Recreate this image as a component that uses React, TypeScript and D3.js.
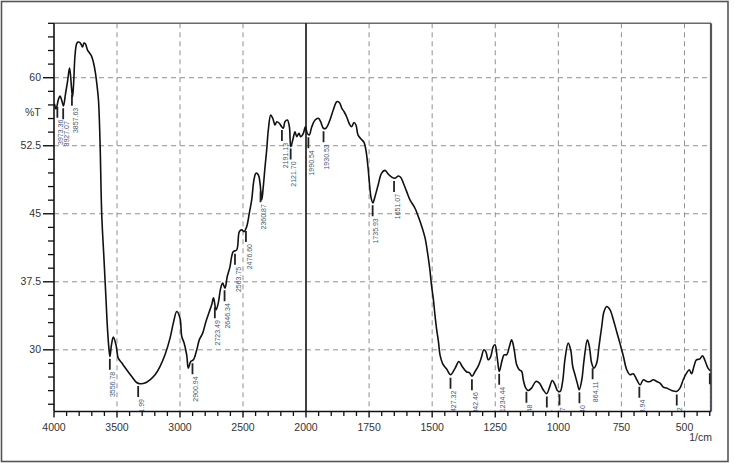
import React from 'react';
import * as d3 from 'd3';

// Spectrum (wavenumber 1/cm, %T)
const wavenumber = [
  3996, 3984, 3964, 3952, 3937, 3925, 3909, 3893, 3877, 3869, 3861, 3853, 3845, 3833, 3821, 3810, 3794, 3782, 3774, 3762,
  3750, 3734, 3718, 3702, 3686, 3671, 3659, 3647, 3635, 3621, 3603, 3587, 3575, 3563, 3556, 3544, 3529, 3508, 3490, 3463,
  3423, 3383, 3344, 3317, 3278, 3238, 3198, 3159, 3119, 3079, 3053, 3026, 3000, 2986, 2968, 2947, 2934, 2915, 2894, 2867,
  2847, 2820, 2794, 2767, 2748, 2734, 2714, 2696, 2677, 2661, 2643, 2625, 2603, 2590, 2577, 2550, 2529, 2510, 2492, 2471,
  2450, 2431, 2413, 2397, 2378, 2365, 2351, 2339, 2325, 2312, 2299, 2280, 2264, 2246, 2232, 2212, 2193, 2180, 2167, 2148,
  2132, 2121, 2105, 2087, 2074, 2056, 2042, 2021, 2005, 1995, 1987, 1977, 1964, 1951, 1942, 1931, 1921, 1905, 1892, 1878,
  1868, 1858, 1849, 1839, 1828, 1819, 1810, 1802, 1794, 1782, 1770, 1762, 1754, 1748, 1742, 1735, 1727, 1713, 1701, 1687,
  1673, 1659, 1647, 1634, 1625, 1614, 1601, 1588, 1568, 1555, 1541, 1528, 1518, 1509, 1502, 1495, 1489, 1482, 1475, 1469,
  1458, 1442, 1427, 1409, 1394, 1381, 1364, 1352, 1342, 1330, 1317, 1306, 1295, 1287, 1278, 1268, 1258, 1251, 1242, 1234,
  1224, 1215, 1205, 1194, 1185, 1176, 1165, 1155, 1145, 1139, 1129, 1119, 1106, 1089, 1075, 1060, 1046, 1036, 1024, 1013,
  1004, 993, 983, 974, 961, 951, 943, 934, 925, 917, 907, 898, 885, 877, 868, 859, 848, 839, 828, 819,
  808, 795, 782, 769, 756, 742, 729, 716, 703, 689, 676, 663, 649, 636, 624, 610, 597, 584, 571, 551,
  531, 518, 505, 492, 481, 472, 463, 453, 440, 429, 420, 407, 398
];
const transmittance = [
  57.10, 56.55, 57.65, 57.98, 57.43, 56.88, 58.20, 59.53, 61.07, 60.30, 58.87, 57.87, 59.20, 62.50, 63.71, 63.93, 63.88, 63.60, 63.38, 63.82,
  63.71, 63.05, 62.72, 62.39, 61.62, 60.52, 59.20, 57.54, 53.14, 44.87, 39.92, 35.51, 32.20, 30.00, 29.26, 30.55, 31.40, 30.55, 29.09, 28.57,
  27.80, 27.06, 26.40, 26.26, 26.33, 26.70, 27.25, 28.16, 29.45, 31.29, 32.94, 34.22, 33.49, 31.47, 30.77, 29.45, 27.98, 28.71, 28.90, 30.00,
  31.10, 31.84, 33.12, 34.22, 35.00, 35.73, 34.41, 35.18, 36.80, 37.35, 36.80, 38.08, 39.18, 40.28, 40.83, 41.02, 43.03, 43.22, 43.03, 43.58,
  45.06, 46.53, 48.73, 49.47, 49.28, 48.37, 46.53, 47.99, 50.19, 52.03, 54.24, 55.89, 55.53, 54.79, 55.15, 54.98, 54.60, 54.43, 55.15, 55.34,
  54.60, 52.40, 53.14, 54.05, 53.50, 53.87, 53.50, 53.87, 54.60, 53.87, 53.69, 54.60, 55.34, 55.53, 55.15, 54.43, 54.43, 55.34, 56.44, 57.36,
  57.27, 56.63, 56.25, 55.70, 54.90, 54.60, 55.06, 54.79, 53.69, 53.25, 52.86, 51.92, 50.05, 48.18, 46.75, 46.20, 46.86, 48.29, 49.45, 49.78,
  49.34, 49.01, 48.92, 49.17, 49.03, 48.37, 47.44, 46.53, 45.61, 44.69, 43.58, 42.31, 40.65, 38.81, 36.97, 35.51, 33.86, 32.20, 30.88, 29.45,
  28.46, 27.85, 27.25, 27.98, 28.71, 28.16, 27.58, 27.47, 27.08, 27.61, 28.24, 29.06, 30.00, 29.78, 28.90, 29.26, 30.36, 30.55, 29.09, 27.61,
  28.71, 29.45, 29.45, 30.36, 31.10, 30.19, 28.35, 27.80, 27.61, 26.70, 25.78, 25.52, 25.78, 26.51, 26.33, 25.59, 25.15, 25.78, 26.62, 26.14,
  25.52, 25.41, 26.51, 28.90, 30.74, 30.00, 28.16, 27.25, 26.33, 25.59, 26.70, 28.90, 31.10, 30.36, 28.54, 27.98, 28.54, 30.36, 32.57, 34.22,
  34.77, 34.41, 33.31, 32.02, 30.74, 29.26, 27.80, 27.25, 27.36, 26.70, 26.14, 26.70, 26.51, 26.51, 26.70, 26.51, 26.33, 25.89, 25.78, 25.52,
  25.41, 25.78, 26.70, 27.43, 27.80, 27.36, 28.13, 28.90, 28.98, 29.34, 28.90, 27.98, 27.69
];

// Peak picking labels
const peakWavenumbers = [
  3973.36, 3927.07, 3857.63, 3556.78, 3331.99, 2900.94, 2723.49, 2646.34, 2563.75, 2476.60, 2360.87, 2191.13, 2121.70,
  1990.54, 1930.53, 1735.93, 1651.07, 1427.32, 1342.46, 1234.44, 1126.48, 1045.61, 995.47, 916.40, 864.11, 678.94, 530.72, 399.68
];
const peakLabels = peakWavenumbers.map((v) => v.toFixed(2));

const xMajorTicks = [4000, 3500, 3000, 2500, 2000, 1750, 1500, 1250, 1000, 750, 500];
const xGridTicks = [3500, 3000, 2500, 1750, 1500, 1250, 1000, 750, 500];
const yMajorTicks = [30, 37.5, 45, 52.5, 60];
const yAxisLabel = '%T';
const xAxisLabel = '1/cm';

const W = 734;
const H = 463;
const L = 54, R = 711, T = 23.3, B = 411.5;

export default function App() {
  const x = d3.scaleLinear().domain([4000, 2000, 395]).range([L, 306, R]);
  const y = d3.scaleLinear().domain([23.2, 66]).range([B, T]);

  const data = wavenumber.map((w, i) => [w, transmittance[i]] as [number, number]);
  const line = d3
    .line<[number, number]>()
    .x((d) => x(d[0]))
    .y((d) => y(d[1]))
    .curve(d3.curveCatmullRom.alpha(0.5));

  // interpolate curve value at a wavenumber
  const asc = [...data].reverse();
  const bis = d3.bisector((d: [number, number]) => d[0]).left;
  const valueAt = (w: number) => {
    const i = Math.max(1, Math.min(asc.length - 1, bis(asc, w)));
    const a = asc[i - 1], b = asc[i];
    const t = (w - a[0]) / (b[0] - a[0]);
    return a[1] + (b[1] - a[1]) * Math.max(0, Math.min(1, t));
  };

  const xMinor: number[] = [];
  for (let v = 4000; v >= 2000; v -= 100) if (!xMajorTicks.includes(v)) xMinor.push(v);
  for (let v = 1950; v >= 400; v -= 50) if (!xMajorTicks.includes(v)) xMinor.push(v);
  const yMinor: number[] = [];
  for (let v = 24; v <= 66.01; v += 1.5) if (!yMajorTicks.some((m) => Math.abs(m - v) < 0.01)) yMinor.push(v);

  const font = "'Liberation Sans', Arial, Helvetica, sans-serif";

  return (
    <svg width={W} height={H} style={{ position: 'absolute', left: 0, top: 0, background: '#fff' }} fontFamily={font}>
      <defs>
        <clipPath id="plotClip">
          <rect x={L} y={T} width={R - L} height={B - T} />
        </clipPath>
      </defs>
      <rect x={1.5} y={1.5} width={726.5} height={460} fill="#fff" stroke="#555" strokeWidth={1.6} />

      {/* grid */}
      {xGridTicks.map((v) => (
        <line key={'gx' + v} x1={x(v)} x2={x(v)} y1={T} y2={B} stroke="#909090" strokeWidth={1} strokeDasharray="5,4" />
      ))}
      {yMajorTicks.map((v) => (
        <line key={'gy' + v} x1={L} x2={R} y1={y(v)} y2={y(v)} stroke="#909090" strokeWidth={1} strokeDasharray="5,4" />
      ))}

      {/* frame top/right */}
      <line x1={L} x2={R} y1={T} y2={T} stroke="#6a6a6a" strokeWidth={1.6} />
      <line x1={R} x2={R} y1={T} y2={B} stroke="#555" strokeWidth={2.2} />

      {/* 2000 divider */}
      <line x1={x(2000)} x2={x(2000)} y1={T} y2={B} stroke="#111" strokeWidth={1.6} />

      {/* spectrum */}
      <path d={line(data) || ''} fill="none" stroke="#111" strokeWidth={1.6} strokeLinejoin="round" clipPath="url(#plotClip)" />

      {/* peak labels */}
      <g clipPath="url(#plotClip)">
        {peakWavenumbers.map((w, i) => {
          const px = x(w);
          const py = y(valueAt(w));
          return (
            <g key={'pk' + i}>
              <line x1={px} x2={px} y1={py + 3} y2={py + 14} stroke="#222" strokeWidth={1.8} />
              <text
                transform={`translate(${px},${py + 16}) rotate(-90)`}
                textAnchor="end"
                dy="0.8em"
                fontSize={7}
                fill="#4a5670"
              >
                {peakLabels[i]}
              </text>
            </g>
          );
        })}
      </g>

      {/* axes */}
      <line x1={L} x2={L} y1={T} y2={B} stroke="#111" strokeWidth={1.6} />
      <line x1={L} x2={R} y1={B} y2={B} stroke="#111" strokeWidth={1.6} />
      {xMajorTicks.map((v) => (
        <g key={'xt' + v}>
          <line x1={x(v)} x2={x(v)} y1={B} y2={B + 6} stroke="#111" strokeWidth={1.4} />
          <text x={x(v)} y={431} textAnchor="middle" fontSize={10.5} fill="#333">
            {v}
          </text>
        </g>
      ))}
      {xMinor.map((v) => (
        <line key={'xm' + v} x1={x(v)} x2={x(v)} y1={B} y2={B + 4.5} stroke="#111" strokeWidth={1.3} />
      ))}
      {yMajorTicks.map((v) => (
        <g key={'yt' + v}>
          <line x1={L - 11} x2={L} y1={y(v)} y2={y(v)} stroke="#111" strokeWidth={1.4} />
          <text x={41} y={y(v)} dy="0.35em" textAnchor="end" fontSize={10.5} fill="#333">
            {v}
          </text>
        </g>
      ))}
      {yMinor.map((v) => (
        <line key={'ym' + v} x1={L - 6} x2={L} y1={y(v)} y2={y(v)} stroke="#111" strokeWidth={1.3} />
      ))}
      <text x={25} y={112.5} dy="0.35em" fontSize={10.5} fill="#333">
        {yAxisLabel}
      </text>
      <text x={712} y={441} textAnchor="end" fontSize={10.5} fill="#333">
        {xAxisLabel}
      </text>
    </svg>
  );
}
